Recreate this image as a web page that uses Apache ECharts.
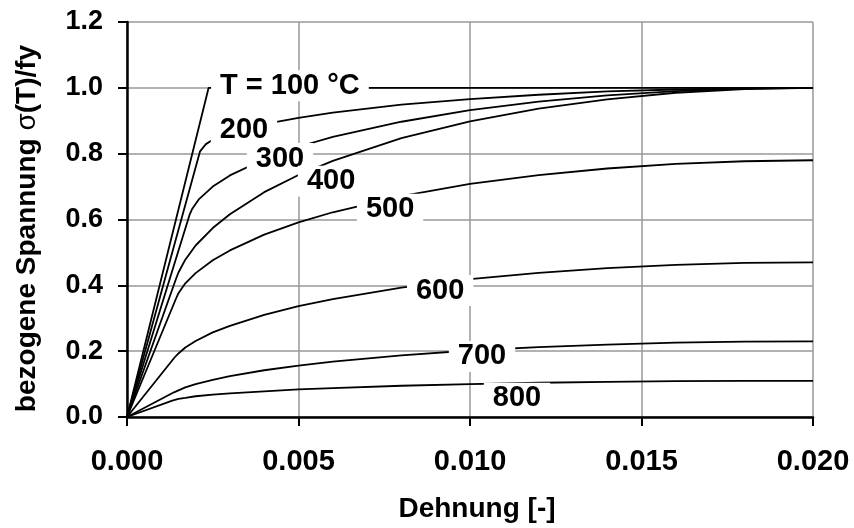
<!DOCTYPE html>
<html>
<head>
<meta charset="utf-8">
<script src="https://cdn.jsdelivr.net/npm/echarts@6/dist/echarts.min.js"></script>
<style>
html,body{margin:0;padding:0;background:#fff;}
#c{width:854px;height:528px;}
</style>
</head>
<body>
<div id="c"></div>
<script>
// Strain values (x) and normalised stress sigma(T)/fy (y)
var t100 = [[0,0],[0.00238,1.0],[0.020,1.0]];
var t200 = [[0,0],[0.00213,0.807],[0.0023,0.829],[0.0025,0.842],[0.003,0.863],[0.0035,0.878],[0.004,0.890],[0.005,0.909],[0.006,0.925],[0.008,0.949],[0.010,0.966],[0.012,0.979],[0.014,0.989],[0.016,0.995],[0.018,0.999],[0.020,1.0]];
var t300 = [[0,0],[0.00182,0.613],[0.0019,0.632],[0.0021,0.662],[0.0025,0.700],[0.003,0.734],[0.004,0.783],[0.005,0.821],[0.006,0.851],[0.008,0.897],[0.010,0.932],[0.012,0.958],[0.014,0.977],[0.016,0.990],[0.018,0.998],[0.020,1.0]];
var t400 = [[0,0],[0.00143,0.420],[0.0015,0.439],[0.0017,0.478],[0.002,0.521],[0.0025,0.574],[0.003,0.616],[0.004,0.683],[0.005,0.735],[0.006,0.778],[0.008,0.847],[0.010,0.898],[0.012,0.937],[0.014,0.965],[0.016,0.985],[0.018,0.996],[0.020,1.0]];
var t500 = [[0,0],[0.00143,0.360],[0.0015,0.376],[0.0017,0.406],[0.002,0.437],[0.0025,0.476],[0.003,0.506],[0.004,0.554],[0.005,0.591],[0.006,0.622],[0.008,0.671],[0.010,0.708],[0.012,0.735],[0.014,0.755],[0.016,0.769],[0.018,0.777],[0.020,0.780]];
var t600 = [[0,0],[0.00138,0.180],[0.0015,0.193],[0.0017,0.211],[0.002,0.231],[0.0025,0.257],[0.003,0.277],[0.004,0.310],[0.005,0.337],[0.006,0.358],[0.008,0.393],[0.010,0.419],[0.012,0.438],[0.014,0.452],[0.016,0.462],[0.018,0.468],[0.020,0.470]];
var t700 = [[0,0],[0.00137,0.075],[0.0015,0.081],[0.0017,0.090],[0.002,0.100],[0.0025,0.113],[0.003,0.124],[0.004,0.142],[0.005,0.156],[0.006,0.168],[0.008,0.187],[0.010,0.202],[0.012,0.212],[0.014,0.220],[0.016,0.226],[0.018,0.229],[0.020,0.230]];
var t800 = [[0,0],[0.00132,0.050],[0.0015,0.055],[0.0017,0.058],[0.002,0.063],[0.0025,0.068],[0.003,0.072],[0.004,0.078],[0.005,0.084],[0.006,0.088],[0.008,0.095],[0.010,0.100],[0.012,0.104],[0.014,0.107],[0.016,0.109],[0.018,0.110],[0.020,0.110]];

// Curve labels and where they sit (data coordinates)
var labelText = ['T = 100 °C','200','300','400','500','600','700','800'];
var labelX = [0.00475,0.00341,0.00446,0.00595,0.00767,0.00913,0.01035,0.01137];
var labelY = [1.006,0.873,0.785,0.716,0.631,0.384,0.184,0.057];

var curves = [t100,t200,t300,t400,t500,t600,t700,t800];

var FONT = 'Liberation Sans, Arial, sans-serif';
var series = curves.map(function(d){
  return {
    type:'line', data:d, showSymbol:false, symbol:'none', smooth:false,
    lineStyle:{color:'#000', width:1.8}, z:3, silent:true
  };
});
series.push({
  type:'scatter', z:10, symbolSize:1, silent:true,
  itemStyle:{color:'#fff', opacity:1},
  data: labelText.map(function(t,i){ return {name:t, value:[labelX[i], labelY[i]]}; }),
  label:{show:true, position:'inside', formatter:'{b}', color:'#000', opacity:1,
    textBorderWidth:0, fontFamily:FONT, fontWeight:'bold', fontSize:29,
    backgroundColor:'#fff', padding:[2,9,0,9]}
});

var chart = echarts.init(document.getElementById('c'), null, {renderer:'canvas'});
chart.setOption({
  animation:false,
  backgroundColor:'#fff',
  grid:{left:127, right:41, top:22, bottom:109, containLabel:false},
  xAxis:{
    type:'value', min:0, max:0.02, interval:0.005,
    name:'Dehnung [-]', nameLocation:'middle', nameGap:78,
    nameTextStyle:{fontFamily:FONT, fontWeight:'bold', fontSize:28, color:'#000', padding:[0,0,0,14]},
    axisLine:{show:true, onZero:false, lineStyle:{color:'#000', width:2.5}},
    axisTick:{show:true, inside:false, length:9, lineStyle:{color:'#000', width:2}},
    axisLabel:{formatter:function(v){return v.toFixed(3);}, fontFamily:FONT, fontWeight:'bold', fontSize:29, color:'#000', margin:30},
    splitLine:{show:true, lineStyle:{color:'#999', width:1.5}}
  },
  yAxis:{
    type:'value', min:0, max:1.2, interval:0.2,
    name:'{b|bezogene Spannung }{s|σ}{b|(T)/fy}', nameLocation:'middle', nameGap:86,
    nameTextStyle:{fontFamily:FONT, fontWeight:'bold', fontSize:28, color:'#000', padding:[0,18,0,0],
      rich:{b:{fontFamily:FONT, fontWeight:'bold', fontSize:28, color:'#000'},
            s:{fontFamily:FONT, fontWeight:'normal', fontSize:28, color:'#000'}}},
    axisLine:{show:true, onZero:false, lineStyle:{color:'#000', width:2.5}},
    axisTick:{show:true, inside:false, length:9, lineStyle:{color:'#000', width:2}},
    axisLabel:{formatter:function(v){return v.toFixed(1);}, fontFamily:FONT, fontWeight:'bold', fontSize:27, color:'#000', margin:24},
    splitLine:{show:true, lineStyle:{color:'#999', width:1.5}}
  },
  series:series
});
</script>
</body>
</html>
